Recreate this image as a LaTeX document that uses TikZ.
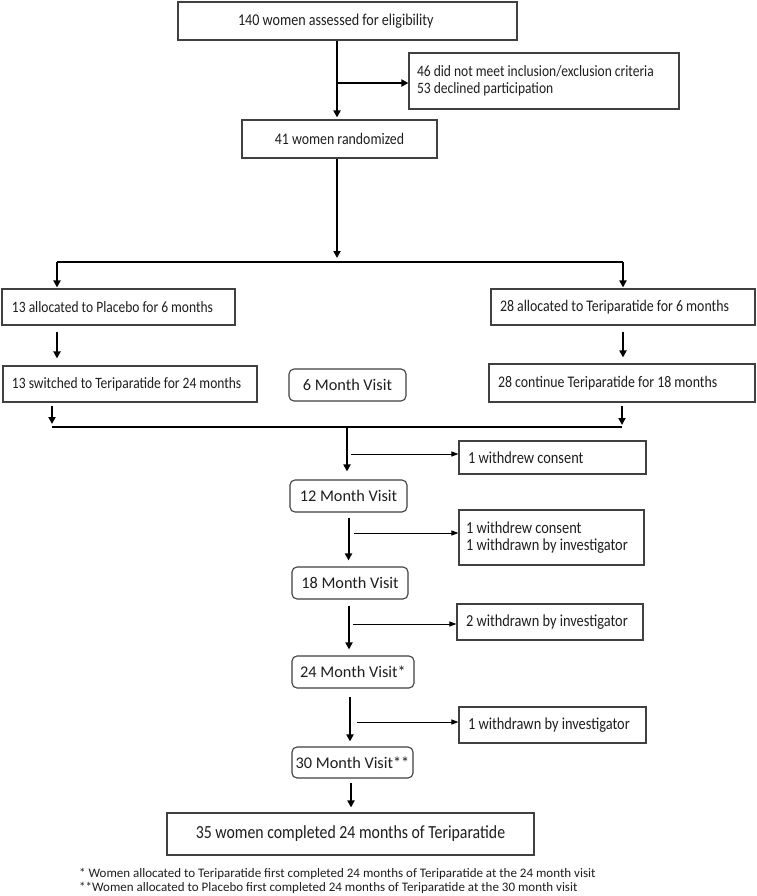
\documentclass[tikz,border=0pt]{standalone}
\usepackage{fontspec}
\setmainfont{Carlito}
\newfontfamily\boxfont{Carlito}[FakeStretch=0.855]
\newcommand\bxf[1]{\boxfont\fontsize{#1}{17bp}\selectfont}
\newcommand\vsf[1]{\fontsize{#1}{18bp}\selectfont}
\newcommand\lt[2]{\parbox{#1}{\hyphenpenalty=10000\relax#2}}
\usetikzlibrary{arrows.meta,calc}
\definecolor{boxline}{HTML}{404040}
\definecolor{txt}{HTML}{1E1E1E}
\begin{document}
\begin{tikzpicture}[x=1bp,y=-1bp,
  every node/.style={text=txt},
  basebox/.style={draw=boxline, line width=1.1bp, inner ysep=0pt, font=\bxf{15.8bp}},
  cbox/.style={basebox, inner xsep=0pt},
  lbox/.style={basebox, inner xsep=8bp},
  wbox/.style={lbox, font=\bxf{16.8bp}},
  vbox/.style={basebox, rounded corners=5bp, inner xsep=0pt, font=\vsf{16.3bp}},
  thk/.style={line width=2bp, draw=black},
  thkarrow/.style={thk, -{Triangle[length=7bp,width=7bp]}},
  thnarrow/.style={line width=1bp, draw=black, -{Triangle[length=7bp,width=5bp]}},
  foot/.style={inner sep=0pt, anchor=west, font=\fontsize{13bp}{14bp}\selectfont}
]
\useasboundingbox (0,0) rectangle (757,896);
\fill[white] (0,0) rectangle (757,896);

% nodes
\node[lbox, inner xsep=60bp, minimum height=38bp, font=\bxf{16.5bp}] (assess) at (347.5,21) {\lt{219bp}{140 women assessed for eligibility}};
\node[lbox, minimum height=56bp] (excl) at (544,81) {\lt{254bp}{46 did not meet inclusion/exclusion criteria\\53 declined participation}};
\node[cbox, minimum width=195bp, minimum height=38bp, font=\bxf{16.2bp}] (rand) at (339.5,139) {41 women randomized};
\node[lbox, inner xsep=10bp, minimum height=36bp] (plac) at (118.5,307) {\lt{213bp}{13 allocated to Placebo for 6 months}};
\node[lbox, inner xsep=9bp, minimum height=36bp, font=\bxf{16.2bp}] (teri) at (623,307) {\lt{246bp}{28 allocated to Teriparatide for 6 months}};
\node[lbox, inner xsep=9bp, minimum height=36bp] (switch) at (130,384) {\lt{236bp}{13 switched to Teriparatide for 24 months}};
\node[vbox, minimum width=117bp, minimum height=32bp] (six) at (347.5,385) {6 Month Visit};
\node[lbox, inner xsep=9bp, minimum height=38bp, font=\bxf{16.2bp}] (cont) at (622,383) {\lt{248bp}{28 continue Teriparatide for 18 months}};
\node[wbox, inner xsep=9bp, minimum height=33bp] (wd1) at (552.5,457.5) {\lt{169bp}{1 withdrew consent}};
\node[vbox, minimum width=117bp, minimum height=32bp] (m12) at (348.5,496) {12 Month Visit};
\node[wbox, inner xsep=7bp, minimum height=55bp] (wd2) at (551.5,537.5) {\lt{171bp}{1 withdrew consent\\1 withdrawn by investigator}};
\node[vbox, minimum width=116bp, minimum height=32bp] (m18) at (350,583) {18 Month Visit};
\node[wbox, inner xsep=9bp, minimum height=36bp] (wd3) at (550,622) {\lt{168bp}{2 withdrawn by investigator}};
\node[vbox, minimum width=122bp, minimum height=32bp] (m24) at (353,672) {24 Month Visit*};
\node[wbox, inner xsep=9bp, minimum height=36bp] (wd4) at (552.5,725) {\lt{169bp}{1 withdrawn by investigator}};
\node[vbox, minimum width=121bp, minimum height=31bp] (m30) at (352.5,762.5) {30 Month Visit**};
\node[cbox, minimum width=367bp, minimum height=42bp, font=\bxf{18.5bp}] (final) at (350.5,834) {35 women completed 24 months of Teriparatide};
\node[foot] (f1) at (79,874) {* Women allocated to Teriparatide first completed 24 months of Teriparatide at the 24 month visit};
\node[foot] (f2) at (79,888) {**Women allocated to Placebo first completed 24 months of Teriparatide at the 30 month visit};

% junction coordinates
\coordinate (j1) at (337,83);
\coordinate (s) at (337,262);
\coordinate (sl) at (57,262);
\coordinate (sr) at (623,262);
\coordinate (ml) at (52,427);
\coordinate (mr) at (622,427);
\coordinate (mc) at (347,427);
\coordinate (b1) at (351,454);
\coordinate (b2) at (354,533);
\coordinate (b3) at (353,624);
\coordinate (b4) at (357,722);

% connectors
\draw[thkarrow] (assess.south -| j1) -- ([yshift=2bp]rand.north -| j1);
\draw[thkarrow] (j1) -- (excl.west |- j1);
\draw[thkarrow] (rand.south -| s) -- ([yshift=4bp]s);
\draw[thk] (sl) -- (sr);
\draw[thkarrow] (sl) -- ([yshift=1bp]plac.north -| sl);
\draw[thkarrow] (sr) -- ([yshift=1bp]teri.north -| sr);
\draw[thkarrow] ([yshift=-6bp]plac.south -| sl) -- ([yshift=7bp]switch.north -| sl);
\draw[thkarrow] ([yshift=-6bp]teri.south -| sr) -- ([yshift=6bp]cont.north -| sr);
\draw[thkarrow] ([yshift=-3bp]switch.south -| ml) -- ([yshift=3bp]ml);
\draw[thkarrow] ([yshift=-3bp]cont.south -| mr) -- ([yshift=2bp]mr);
\draw[thk] (ml) -- (mr);
\draw[thkarrow] (mc) -- ([yshift=8bp]m12.north -| mc);
\draw[thnarrow] (b1) -- (wd1.west |- b1);
\draw[thkarrow] ([yshift=-5bp]m12.south) -- ([yshift=6bp]m18.north -| m12.south);
\draw[thnarrow] (b2) -- (wd2.west |- b2);
\draw[thkarrow] ([yshift=-6bp]m18.south -| 349,0) -- ([yshift=6bp]m24.north -| 349,0);
\draw[thnarrow] (b3) -- (wd3.west |- b3);
\draw[thkarrow] ([yshift=-8bp]m24.south -| 350,0) -- ([yshift=5bp]m30.north -| 350,0);
\draw[thnarrow] (b4) -- (wd4.west |- b4);
\draw[thkarrow] ([yshift=-4bp]m30.south -| 351,0) -- ([yshift=5bp]final.north -| 351,0);
\end{tikzpicture}
\end{document}
